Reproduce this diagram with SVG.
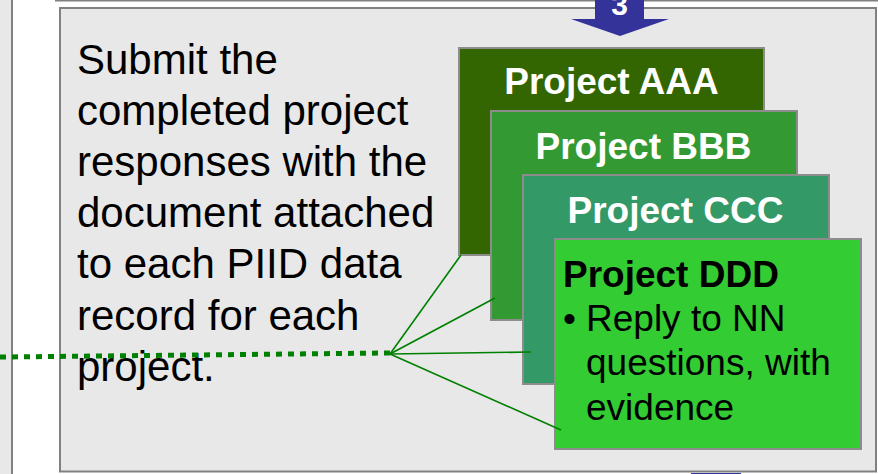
<svg xmlns="http://www.w3.org/2000/svg" width="878" height="474" viewBox="0 0 878 474">
  <style>
    .frame { fill: #e8e8e8; stroke: #808080; stroke-width: 2; }
    .card { stroke: #8c8c8c; stroke-width: 2; }
    .title { font-family: "Liberation Sans", Arial, sans-serif; font-weight: bold; font-size: 37px; }
    .body { font-family: "Liberation Sans", Arial, sans-serif; font-size: 37px; fill: #000; }
    .note { font-family: "Liberation Sans", Arial, sans-serif; font-size: 42px; fill: #000; }
    .fan { stroke: #008000; stroke-width: 1.6; fill: none; }
  </style>

  <!-- page background -->
  <rect x="0" y="0" width="878" height="474" fill="#ffffff"/>

  <!-- neighbouring panels at the edges -->
  <rect x="-20" y="-10" width="32" height="500" class="frame"/>
  <line x1="55" y1="0.75" x2="878" y2="0.75" stroke="#808080" stroke-width="1.5"/>

  <!-- main step panel -->
  <g id="step-panel">
    <rect x="60" y="8" width="816" height="463.5" class="frame"/>
    <text class="note" x="77">
      <tspan x="77" y="74">Submit the</tspan>
      <tspan x="77" y="125">completed project</tspan>
      <tspan x="77" y="176">responses with the</tspan>
      <tspan x="77" y="227">document attached</tspan>
      <tspan x="77" y="278">to each PIID data</tspan>
      <tspan x="77" y="330">record for each</tspan>
      <tspan x="77" y="381">project.</tspan>
    </text>
  </g>

  <!-- step 3 arrow -->
  <g id="step-arrow">
    <polygon points="595,-10 644,-10 644,19 669,19 620,36 571,19 595,19" fill="#333399"/>
    <text x="619.5" y="15" text-anchor="middle" fill="#ffffff" font-family="Liberation Sans, Arial, sans-serif" font-weight="bold" font-size="30">3</text>
  </g>

  <!-- next step arrow (top edge only) -->
  <rect x="691" y="473" width="50" height="5" fill="#333399"/>

  <!-- stacked project cards -->
  <g id="project-aaa">
    <rect x="459" y="48" width="305" height="207" fill="#336600" class="card"/>
    <text class="title" x="611.5" y="94" text-anchor="middle" fill="#ffffff">Project AAA</text>
  </g>
  <g id="project-bbb">
    <rect x="491" y="111" width="306" height="209" fill="#339933" class="card"/>
    <text class="title" x="643.5" y="159" text-anchor="middle" fill="#ffffff">Project BBB</text>
  </g>
  <g id="project-ccc">
    <rect x="523" y="175" width="306" height="209" fill="#339966" class="card"/>
    <text class="title" x="675.5" y="223" text-anchor="middle" fill="#ffffff">Project CCC</text>
  </g>
  <g id="project-ddd">
    <rect x="555" y="239" width="306" height="210" fill="#33cc33" class="card"/>
    <text class="title" x="563" y="287" fill="#000000">Project DDD</text>
    <text class="body" x="563" y="331">•</text>
    <text class="body">
      <tspan x="586" y="331">Reply to NN</tspan>
      <tspan x="586" y="375">questions, with</tspan>
      <tspan x="586" y="420">evidence</tspan>
    </text>
  </g>

  <!-- connectors -->
  <g id="connectors">
    <line x1="0" y1="357" x2="390" y2="353" stroke="#008000" stroke-width="5" stroke-dasharray="6 6"/>
    <line x1="390" y1="354" x2="461" y2="255" class="fan"/>
    <line x1="390" y1="354" x2="495" y2="298" class="fan"/>
    <line x1="390" y1="354" x2="531" y2="352" class="fan"/>
    <line x1="390" y1="354" x2="561" y2="430" class="fan"/>
  </g>
</svg>
